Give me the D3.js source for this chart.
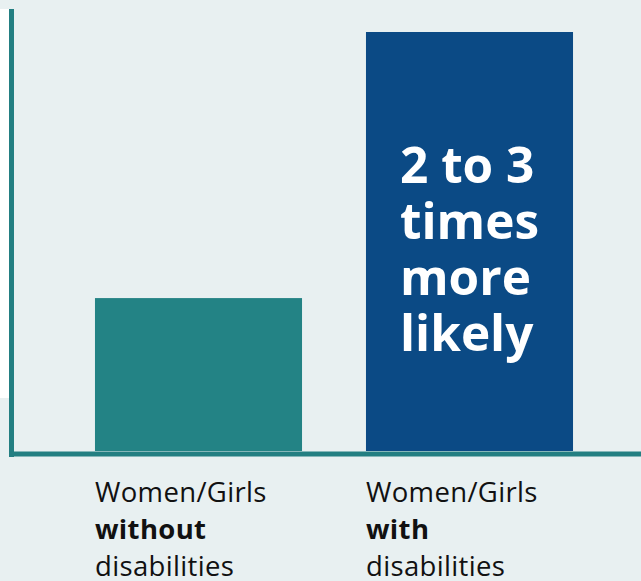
<!DOCTYPE html>
<html><head><meta charset="utf-8">
<script src="https://cdn.jsdelivr.net/npm/d3@7"></script>
<style>
html,body{margin:0;padding:0;background:#e8f0f1;}
svg{display:block;}
</style></head>
<body>
<svg id="c" width="641" height="581"></svg>
<script>
const categories = ["without", "with"];
const values = [1, 2.74];
const labelLines = [["Women/Girls", "without", "disabilities"], ["Women/Girls", "with", "disabilities"]];
const boldLine = 1;
const annotation = ["2 to 3", "times", "more", "likely"];
const colors = ["#238385", "#0b4a85"];

const svg = d3.select("#c");
const W = 641, H = 581;
const baseY = 451;
svg.append("rect").attr("width", W).attr("height", H).attr("fill", "#e8f0f1");
svg.append("rect").attr("x", 0).attr("y", 9).attr("width", 9).attr("height", 389).attr("fill", "#ffffff");

const x = d3.scaleBand().domain(categories).range([63, 605]).paddingInner(0.236).paddingOuter(0.118);
const y = d3.scaleLinear().domain([0, 2.74]).range([baseY, 32]);

svg.selectAll("rect.bar").data(values).join("rect")
  .attr("class", "bar")
  .attr("x", (d, i) => x(categories[i]))
  .attr("y", d => y(d))
  .attr("width", x.bandwidth())
  .attr("height", d => y(0) - y(d))
  .attr("fill", (d, i) => colors[i]);

// axes
svg.append("line").attr("x1", 11.5).attr("x2", 11.5).attr("y1", 9).attr("y2", 457)
  .attr("stroke", "#237f82").attr("stroke-width", 5);
svg.append("line").attr("x1", 9).attr("x2", W).attr("y1", 454).attr("y2", 454)
  .attr("stroke", "#237f82").attr("stroke-width", 5);

// annotation
const ann = svg.append("text")
  .attr("font-family", "'Source Sans Pro', 'Open Sans', Lato, sans-serif")
  .attr("font-weight", 700).attr("font-size", 49.5).attr("fill", "#ffffff");
annotation.forEach((t, i) => {
  ann.append("tspan").attr("x", x(categories[1]) + 34).attr("y", 183 + i * 56).text(t);
});

// labels
labelLines.forEach((lines, ci) => {
  const t = svg.append("text")
    .attr("font-family", "'Source Sans Pro', 'Open Sans', Lato, sans-serif")
    .attr("font-size", 27.5).attr("letter-spacing", 0.35).attr("fill", "#111");
  lines.forEach((l, li) => {
    t.append("tspan").attr("x", x(categories[ci])).attr("y", 502 + li * 37)
      .attr("font-weight", li === boldLine ? 700 : 400).text(l);
  });
});
</script>
</body></html>
